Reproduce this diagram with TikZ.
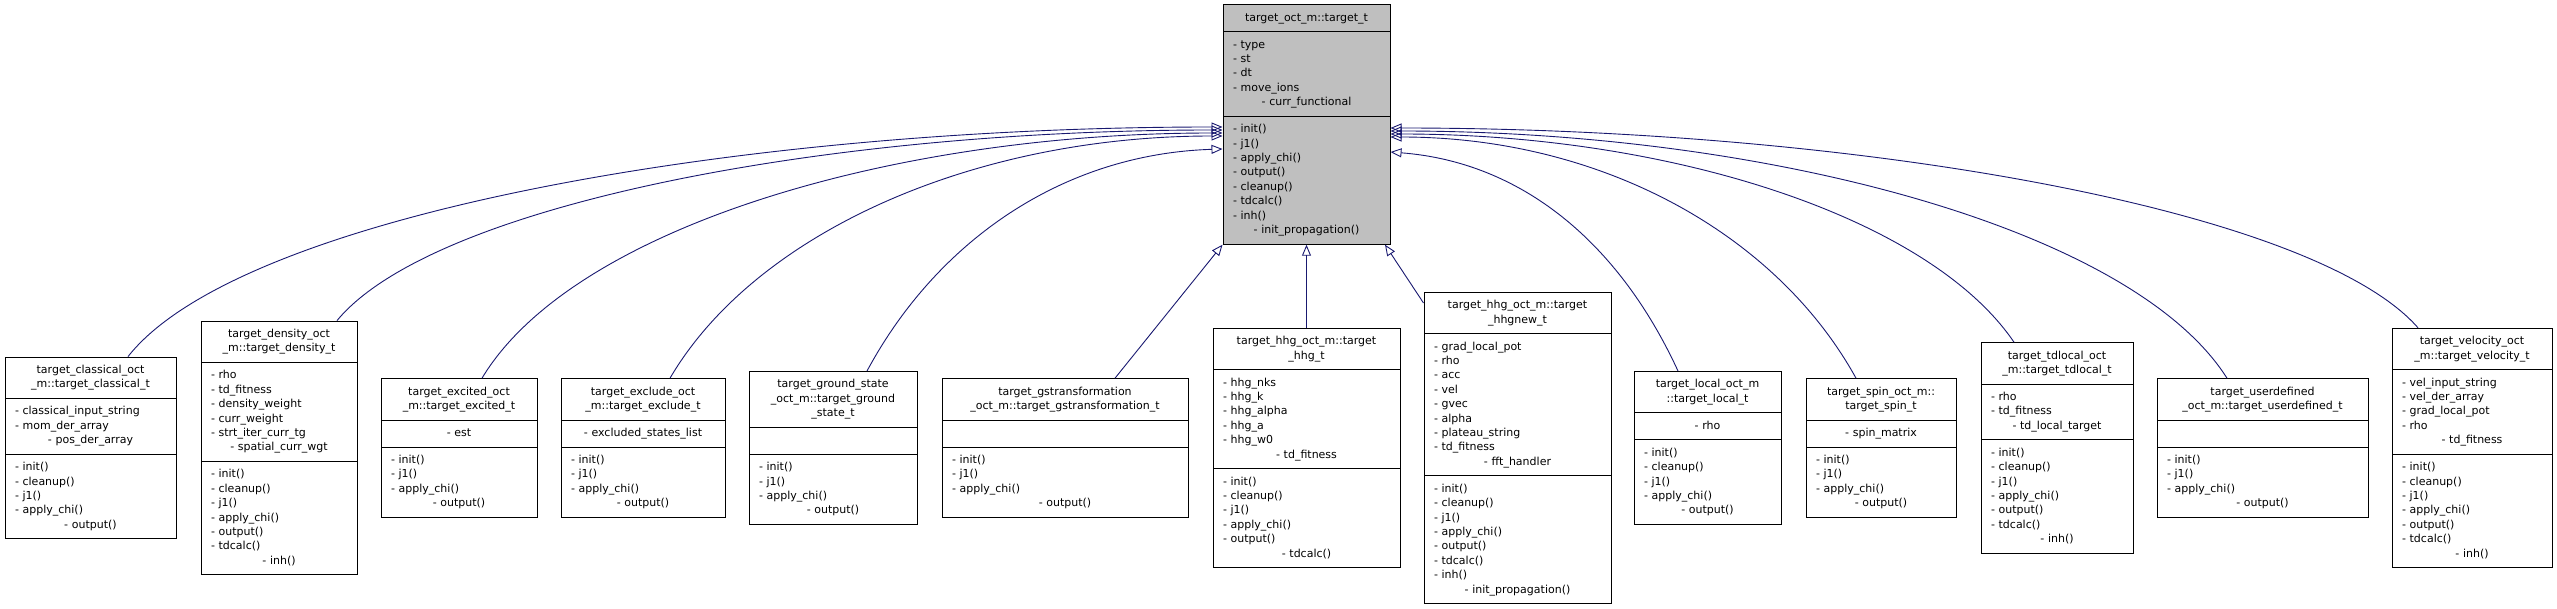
\documentclass[tikz,border=0pt]{standalone}
\usepackage{fontspec}
\setmainfont{DejaVu Sans}
\usetikzlibrary{shapes.multipart,arrows.meta}
\definecolor{edgeblue}{HTML}{191970}
\definecolor{basegray}{HTML}{BFBFBF}
\newcommand\fl[1]{\strut#1\strut}
\tikzset{
  cls/.style={rectangle split, rectangle split parts=3, draw=black, line width=1pt, fill=white,
    inner xsep=10pt, inner ysep=5.8pt, align=center, font=\fontsize{11}{14.4}\selectfont},
  inh/.style={draw=edgeblue, line width=0.9pt, {Triangle[open,length=11pt,width=9pt]}-},
}
\begin{document}
\catcode`\_=12
\begin{tikzpicture}[x=1pt,y=-1pt]
  \useasboundingbox (0,0) rectangle (2557,609);
  % base class
  \node[cls, fill=basegray, text width=147pt] (base) at (1306.5,124.5)
    {\fl{target_oct_m::target_t}
     \nodepart{two}\raggedright\fl{- type\\- st\\- dt\\- move_ions\\- curr_functional}
     \nodepart{three}\raggedright\fl{- init()\\- j1()\\- apply_chi()\\- output()\\- cleanup()\\- tdcalc()\\- inh()\\- init_propagation()}};
  % derived classes
  \node[cls, text width=151pt] (classical) at (90.5,448)
    {\fl{target_classical_oct\\_m::target_classical_t}
     \nodepart{two}\raggedright\fl{- classical_input_string\\- mom_der_array\\- pos_der_array}
     \nodepart{three}\raggedright\fl{- init()\\- cleanup()\\- j1()\\- apply_chi()\\- output()}};
  \node[cls, text width=136pt] (density) at (279,448)
    {\fl{target_density_oct\\_m::target_density_t}
     \nodepart{two}\raggedright\fl{- rho\\- td_fitness\\- density_weight\\- curr_weight\\- strt_iter_curr_tg\\- spatial_curr_wgt}
     \nodepart{three}\raggedright\fl{- init()\\- cleanup()\\- j1()\\- apply_chi()\\- output()\\- tdcalc()\\- inh()}};
  \node[cls, text width=136pt] (excited) at (459,448)
    {\fl{target_excited_oct\\_m::target_excited_t}
     \nodepart{two}\raggedright\fl{- est}
     \nodepart{three}\raggedright\fl{- init()\\- j1()\\- apply_chi()\\- output()}};
  \node[cls, text width=144pt] (exclude) at (643,448)
    {\fl{target_exclude_oct\\_m::target_exclude_t}
     \nodepart{two}\raggedright\fl{- excluded_states_list}
     \nodepart{three}\raggedright\fl{- init()\\- j1()\\- apply_chi()\\- output()}};
  \node[cls, text width=148pt] (ground) at (833,448)
    {\fl{target_ground_state\\_oct_m::target_ground\\_state_t}
     \nodepart{two}\strut
     \nodepart{three}\raggedright\fl{- init()\\- j1()\\- apply_chi()\\- output()}};
  \node[cls, text width=226pt] (gstrans) at (1065,448)
    {\fl{target_gstransformation\\_oct_m::target_gstransformation_t}
     \nodepart{two}\strut
     \nodepart{three}\raggedright\fl{- init()\\- j1()\\- apply_chi()\\- output()}};
  \node[cls, text width=167pt] (hhg) at (1306.5,448)
    {\fl{target_hhg_oct_m::target\\_hhg_t}
     \nodepart{two}\raggedright\fl{- hhg_nks\\- hhg_k\\- hhg_alpha\\- hhg_a\\- hhg_w0\\- td_fitness}
     \nodepart{three}\raggedright\fl{- init()\\- cleanup()\\- j1()\\- apply_chi()\\- output()\\- tdcalc()}};
  \node[cls, text width=167pt] (hhgnew) at (1517.5,448)
    {\fl{target_hhg_oct_m::target\\_hhgnew_t}
     \nodepart{two}\raggedright\fl{- grad_local_pot\\- rho\\- acc\\- vel\\- gvec\\- alpha\\- plateau_string\\- td_fitness\\- fft_handler}
     \nodepart{three}\raggedright\fl{- init()\\- cleanup()\\- j1()\\- apply_chi()\\- output()\\- tdcalc()\\- inh()\\- init_propagation()}};
  \node[cls, text width=127pt] (local) at (1707.5,448)
    {\fl{target_local_oct_m\\::target_local_t}
     \nodepart{two}\raggedright\fl{- rho}
     \nodepart{three}\raggedright\fl{- init()\\- cleanup()\\- j1()\\- apply_chi()\\- output()}};
  \node[cls, text width=130pt] (spin) at (1881,448)
    {\fl{target_spin_oct_m::\\target_spin_t}
     \nodepart{two}\raggedright\fl{- spin_matrix}
     \nodepart{three}\raggedright\fl{- init()\\- j1()\\- apply_chi()\\- output()}};
  \node[cls, text width=132pt] (tdlocal) at (2057,448)
    {\fl{target_tdlocal_oct\\_m::target_tdlocal_t}
     \nodepart{two}\raggedright\fl{- rho\\- td_fitness\\- td_local_target}
     \nodepart{three}\raggedright\fl{- init()\\- cleanup()\\- j1()\\- apply_chi()\\- output()\\- tdcalc()\\- inh()}};
  \node[cls, text width=191pt] (userdef) at (2262.5,448)
    {\fl{target_userdefined\\_oct_m::target_userdefined_t}
     \nodepart{two}\strut
     \nodepart{three}\raggedright\fl{- init()\\- j1()\\- apply_chi()\\- output()}};
  \node[cls, text width=140pt] (velocity) at (2472,448)
    {\fl{target_velocity_oct\\_m::target_velocity_t}
     \nodepart{two}\raggedright\fl{- vel_input_string\\- vel_der_array\\- grad_local_pot\\- rho\\- td_fitness}
     \nodepart{three}\raggedright\fl{- init()\\- cleanup()\\- j1()\\- apply_chi()\\- output()\\- tdcalc()\\- inh()}};
  % inheritance edges
  \draw[inh] (base.west |- 0,127) .. controls +(-490,0) and +(110,-140) .. (classical.north -| 128,0);
  \draw[inh] (base.west |- 0,130) .. controls +(-400,0) and +(95,-115) .. (density.north -| 337,0);
  \draw[inh] (base.west |- 0,133) .. controls +(-330,0) and +(90,-150) .. (excited.north -| 482,0);
  \draw[inh] (base.west |- 0,136) .. controls +(-250,0) and +(85,-145) .. (exclude.north -| 670,0);
  \draw[inh] (base.west |- 0,149) .. controls +(-160,5) and +(70,-130) .. (ground.north -| 867,0);
  \draw[inh] (base.south west) -- (gstrans.north -| 1115,0);
  \draw[inh] (base.south) -- (hhg.north);
  \draw[inh] (base.south -| 1385,0) -- (hhgnew.west |- 0,303);
  \draw[inh] (base.east |- 0,152) .. controls +(130,10) and +(-60,-130) .. (local.north -| 1678,0);
  \draw[inh] (base.east |- 0,137) .. controls +(210,0) and +(-80,-145) .. (spin.north -| 1856,0);
  \draw[inh] (base.east |- 0,134) .. controls +(280,0) and +(-85,-125) .. (tdlocal.north -| 2014,0);
  \draw[inh] (base.east |- 0,131) .. controls +(375,0) and +(-95,-150) .. (userdef.north -| 2227,0);
  \draw[inh] (base.east |- 0,128) .. controls +(460,0) and +(-105,-120) .. (velocity.north -| 2418,0);
\end{tikzpicture}
\end{document}
